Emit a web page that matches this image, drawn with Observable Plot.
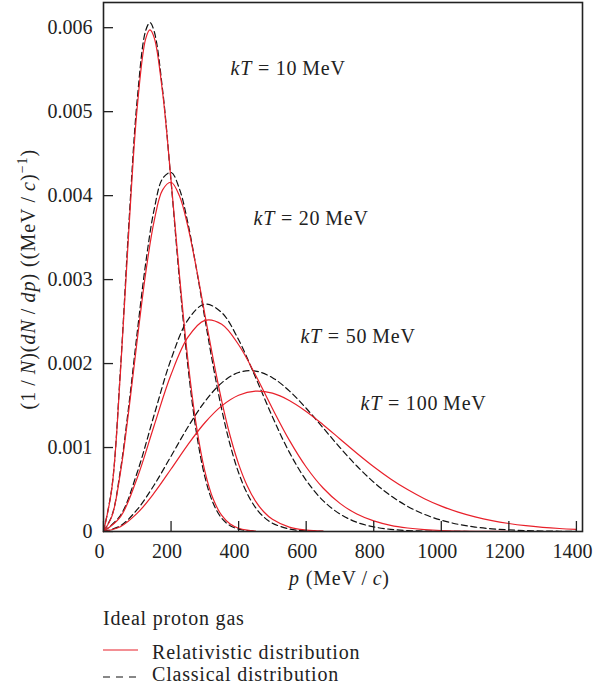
<!DOCTYPE html>
<html><head><meta charset="utf-8">
<script src="https://cdn.jsdelivr.net/npm/d3@7"></script>
<script src="https://cdn.jsdelivr.net/npm/@observablehq/plot@0.6"></script>
<style>
body{margin:0;background:#fff;}
#chart svg{display:block;}
</style></head><body><div id="chart"></div>
<script>
const FONT = '"Liberation Serif", "Times New Roman", serif';

// temperatures (MeV)
const kTs = [10, 20, 50, 100];

// kT = 10 MeV
const p10   = [0, 25, 50, 75, 100, 125, 137.5, 150, 175, 200, 225, 250, 275, 300, 325, 350, 375, 400, 425, 450];
const cls10 = [0, 0.000531, 0.001921, 0.003660, 0.005153, 0.005967, 0.006060, 0.005957, 0.005257, 0.004166, 0.002994, 0.001963, 0.001181, 0.000653, 0.000333, 0.000157, 0.000069, 0.000028, 0.000010, 0.000003];
const rel10 = [0, 0.000520, 0.001883, 0.003589, 0.005059, 0.005870, 0.005973, 0.005882, 0.005225, 0.004182, 0.003047, 0.002037, 0.001257, 0.000719, 0.000383, 0.000191, 0.000089, 0.000039, 0.000016, 0.000006];

// kT = 20 MeV
const p20   = [0, 25, 50, 75, 100, 125, 150, 175, 200, 225, 250, 275, 300, 325, 350, 375, 400, 425, 450, 475, 500, 550, 600, 650];
const cls20 = [0, 0.000191, 0.000726, 0.001503, 0.002378, 0.003198, 0.003835, 0.004203, 0.004276, 0.004078, 0.003669, 0.003129, 0.002539, 0.001965, 0.001454, 0.001030, 0.000699, 0.000456, 0.000285, 0.000171, 0.000099, 0.000030, 0.000008, 0.000002];
const rel20 = [0, 0.000183, 0.000698, 0.001445, 0.002287, 0.003080, 0.003700, 0.004069, 0.004159, 0.003995, 0.003629, 0.003135, 0.002587, 0.002046, 0.001554, 0.001137, 0.000803, 0.000548, 0.000362, 0.000232, 0.000145, 0.000052, 0.000017, 0.000005];

// kT = 50 MeV
const p50   = [0, 50, 100, 150, 200, 250, 300, 350, 400, 450, 500, 550, 600, 650, 700, 750, 800, 850, 900, 950, 1000, 1100, 1200];
const cls50 = [0, 0.000191, 0.000706, 0.001390, 0.002051, 0.002521, 0.002708, 0.002607, 0.002283, 0.001837, 0.001367, 0.000945, 0.000609, 0.000368, 0.000208, 0.000110, 0.000055, 0.000026, 0.000011, 0.000005, 0.000002, 0, 0];
const rel50 = [0, 0.000173, 0.000641, 0.001263, 0.001869, 0.002314, 0.002515, 0.002468, 0.002224, 0.001864, 0.001465, 0.001088, 0.000768, 0.000518, 0.000335, 0.000208, 0.000126, 0.000073, 0.000042, 0.000023, 0.000012, 0.000003, 0.000001];

// kT = 100 MeV
const p100   = [0, 50, 100, 150, 200, 250, 300, 350, 400, 450, 500, 550, 600, 650, 700, 750, 800, 850, 900, 950, 1000, 1050, 1100, 1150, 1200, 1250, 1300, 1350, 1400];
const cls100 = [0, 0.000068, 0.000263, 0.000554, 0.000897, 0.001244, 0.001547, 0.001770, 0.001894, 0.001911, 0.001832, 0.001675, 0.001468, 0.001235, 0.000999, 0.000780, 0.000587, 0.000427, 0.000300, 0.000204, 0.000135, 0.000086, 0.000053, 0.000032, 0.000019, 0.000011, 0.000006, 0.000003, 0.000002];
const rel100 = [0, 0.000057, 0.000218, 0.000459, 0.000744, 0.001035, 0.001295, 0.001496, 0.001623, 0.001672, 0.001647, 0.001561, 0.001430, 0.001272, 0.001102, 0.000932, 0.000771, 0.000626, 0.000499, 0.000391, 0.000302, 0.000231, 0.000174, 0.000129, 0.000095, 0.000069, 0.000050, 0.000036, 0.000026];

// ticks
const xTicks = [0, 200, 400, 600, 800, 1000, 1200, 1400];
const yTicks = [0, 0.001, 0.002, 0.003, 0.004, 0.005, 0.006];
const yTickLabels = ["0", "0.001", "0.002", "0.003", "0.004", "0.005", "0.006"];

// annotation labels (anchor at start of text)
const annotLabels = ["kT = 10\u2009MeV", "kT = 20\u2009MeV", "kT = 50\u2009MeV", "kT = 100\u2009MeV"];
const annotP = [376, 444, 583, 761];
const annotV = [0.005508, 0.003723, 0.002318, 0.001520];

// legend
const legendTitle = "Ideal proton gas";
const seriesNames = ["Relativistic distribution", "Classical distribution"];

const RED = "#e8202a";
const BLACK = "#111";
const LS = "0.8px";

const curves = [
  {kT: kTs[0], p: p10, rel: rel10, cls: cls10},
  {kT: kTs[1], p: p20, rel: rel20, cls: cls20},
  {kT: kTs[2], p: p50, rel: rel50, cls: cls50},
  {kT: kTs[3], p: p100, rel: rel100, cls: cls100}
];
const rows = kind => curves.flatMap(c => c.p.map((p, i) => ({kT: c.kT, p, v: c[kind][i]})));
const relRows = rows("rel"), clsRows = rows("cls");
const annots = annotLabels.map((label, i) => ({label, p: annotP[i], v: annotV[i]}));

const W = 593, H = 600, mL = 103, mR = 11, mT = 2, mB = 69;
const plotW = W - mL - mR, plotH = H - mT - mB;

const chart = Plot.plot({
  width: W, height: H,
  marginLeft: mL, marginRight: mR, marginTop: mT, marginBottom: mB,
  style: {fontFamily: FONT, fontSize: "20px", color: "#222", background: "#fff"},
  x: {domain: [0, 1418]},
  y: {domain: [0, 0.0063]},
  marks: [
    Plot.line(clsRows, {x: "p", y: "v", z: "kT", stroke: BLACK, strokeWidth: 1.2, strokeDasharray: "6,3.5", curve: "catmull-rom"}),
    Plot.line(relRows, {x: "p", y: "v", z: "kT", stroke: RED, strokeWidth: 1.2, curve: "catmull-rom"}),
    Plot.tickX(xTicks, {x: d => d, insetTop: plotH - 10, stroke: "#222", strokeWidth: 1.3}),
    Plot.tickY(yTicks, {y: d => d, insetRight: plotW - 10, stroke: "#222", strokeWidth: 1.3}),
    Plot.axisX(xTicks, {tickSize: 0, tickPadding: 12, dx: -4, tickFormat: d => String(d), label: null}),
    Plot.axisY(yTicks, {tickSize: 0, tickPadding: 11, tickFormat: d => yTickLabels[yTicks.indexOf(d)], label: null}),
    Plot.frame({stroke: "#222", strokeWidth: 1.6}),
    Plot.text(annots, {x: "p", y: "v", text: "label", textAnchor: "start", fontSize: 20, fill: "#222"})
  ]
});

const svg = d3.select(chart);
const xs = chart.scale("x"), ys = chart.scale("y");

// italic kT in annotations
svg.selectAll("text").filter(function() { return /^kT/.test(this.textContent); }).each(function() {
  const rest = this.textContent.slice(2);
  const t = d3.select(this);
  t.text(null).style("letter-spacing", LS);
  t.append("tspan").attr("font-style", "italic").text("kT");
  t.append("tspan").text(rest);
});

// x axis label
const xl = svg.append("text")
  .attr("x", (xs.apply(0) + xs.apply(1400)) / 2)
  .attr("y", 585)
  .attr("text-anchor", "middle")
  .attr("fill", "#222")
  .attr("font-size", 20)
  .style("letter-spacing", LS);
xl.append("tspan").attr("font-style", "italic").text("p");
xl.append("tspan").text(" (MeV\u2009/\u2009");
xl.append("tspan").attr("font-style", "italic").text("c");
xl.append("tspan").text(")");

// y axis label
const yc = (ys.apply(0) + ys.apply(0.006)) / 2;
const yl = svg.append("text")
  .attr("transform", `translate(35,${yc}) rotate(-90)`)
  .attr("text-anchor", "middle")
  .attr("fill", "#222")
  .attr("font-size", 20)
  .style("letter-spacing", "1px");
yl.append("tspan").text("(1\u2009/\u2009");
yl.append("tspan").attr("font-style", "italic").text("N");
yl.append("tspan").text(")(");
yl.append("tspan").attr("font-style", "italic").text("dN");
yl.append("tspan").text("\u2009/\u2009");
yl.append("tspan").attr("font-style", "italic").text("dp");
yl.append("tspan").text(") ((MeV\u2009/\u2009");
yl.append("tspan").attr("font-style", "italic").text("c");
yl.append("tspan").text(")");
yl.append("tspan").attr("font-size", 14).attr("dy", "-0.55em").text("\u22121");
yl.append("tspan").attr("dy", "0.385em").text(")");

document.getElementById("chart").appendChild(chart);

// legend below the chart
const leg = d3.select("#chart").append("svg")
  .attr("width", W).attr("height", 92)
  .style("display", "block")
  .style("font-family", FONT).style("font-size", "20px").style("letter-spacing", LS);
leg.append("text").attr("x", 103).attr("y", 25).attr("fill", "#222").text(legendTitle);
leg.append("line").attr("x1", 103).attr("x2", 138).attr("y1", 50).attr("y2", 50)
  .attr("stroke", RED).attr("stroke-width", 1.2);
leg.append("text").attr("x", 152).attr("y", 59).attr("fill", "#222").text(seriesNames[0]);
leg.append("line").attr("x1", 103).attr("x2", 140).attr("y1", 77).attr("y2", 77)
  .attr("stroke", BLACK).attr("stroke-width", 1.2).attr("stroke-dasharray", "7,6");
leg.append("text").attr("x", 152).attr("y", 81).attr("fill", "#222").text(seriesNames[1]);
</script></body></html>
